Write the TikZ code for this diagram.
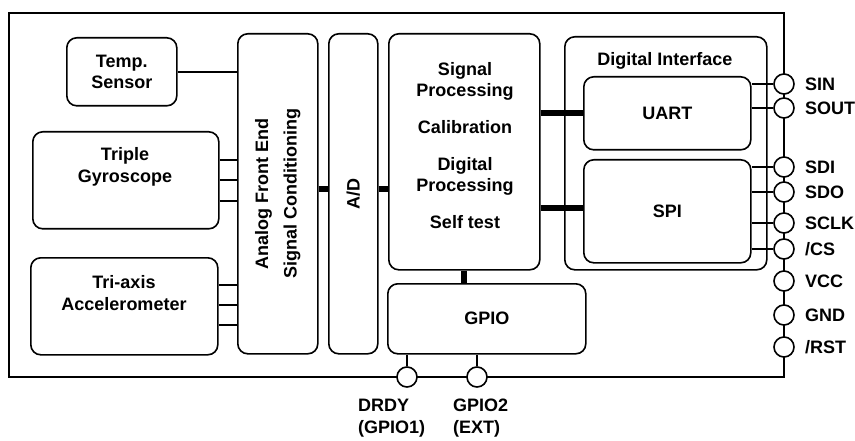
\documentclass[tikz,border=0pt]{standalone}
\usepackage{fontspec}
\setmainfont{Liberation Sans}
\begin{document}
\begin{tikzpicture}[x=1pt,y=-1pt,
  font=\fontsize{18}{21.5}\selectfont\bfseries,
  line/.style={line width=1.6pt},
  box/.style={draw, line width=1.6pt, rounded corners=10pt, inner sep=0pt, anchor=north west, align=center},
  bus/.style={line width=6pt},
  pin/.style={circle, draw, line width=1.6pt, fill=white, minimum size=20pt, inner sep=0pt},
  txt/.style={inner sep=0pt, align=center},
  plabel/.style={anchor=west, inner sep=0pt}]
\useasboundingbox (0,0) rectangle (855,441);
% outer chip outline
\draw[line] (9,13) rectangle (784,377);
% boxes
\node[box, minimum width=110pt, minimum height=68pt] (temp) at (66,37) {Temp.\\Sensor};
\node[box, minimum width=186pt, minimum height=97pt] (gyro) at (32,131) {};
\node[txt] (gyrot) at (125,167) {Triple\\Gyroscope};
\node[box, minimum width=187pt, minimum height=97pt] (acc) at (30,257) {};
\node[txt] (acct) at (124,293) {Tri-axis\\Accelerometer};
\node[box, minimum width=80pt, minimum height=320pt] (afe) at (237,33) {};
\node[txt, rotate=90] (afet) at (afe.center) {Analog Front End\\[7pt]Signal Conditioning};
\node[box, minimum width=49pt, minimum height=320pt] (ad) at (328,33) {};
\node[txt, rotate=90] (adt) at (ad.center) {A/D};
\node[box, minimum width=151pt, minimum height=236pt] (sp) at (388,33) {};
\node[txt, anchor=base] (sp1) at (465,76) {Signal};
\node[txt, anchor=base] (sp2) at (465,97) {Processing};
\node[txt, anchor=base] (sp3) at (465,134) {Calibration};
\node[txt, anchor=base] (sp4) at (465,171) {Digital};
\node[txt, anchor=base] (sp5) at (465,192) {Processing};
\node[txt, anchor=base] (sp6) at (465,229) {Self test};
\node[box, minimum width=202pt, minimum height=233pt] (di) at (564,36) {};
\node[txt] (dit) at (665,61) {Digital Interface};
\node[box, minimum width=167pt, minimum height=73pt] (uart) at (583,76) {UART};
\node[box, minimum width=167pt, minimum height=103pt] (spi) at (583,159) {SPI};
\node[box, minimum width=198pt, minimum height=70pt] (gpio) at (387,283) {GPIO};
% sensor connections
\draw[line] (temp.east) -- (temp.east -| afe.west);
\foreach \dy in {-20.5,0,20.5} \draw[line] ([yshift=-\dy pt]gyro.east) -- ([yshift=-\dy pt]gyro.east -| afe.west);
\foreach \dy in {-21.5,-1.5,18.5} \draw[line] ([yshift=-\dy pt]acc.east) -- ([yshift=-\dy pt]acc.east -| afe.west);
% buses
\draw[bus] (afe.east |- 0,189) -- (ad.west |- 0,189);
\draw[bus] (ad.east |- 0,189) -- (sp.west |- 0,189);
\draw[bus] (sp.east |- uart.west) -- (uart.west);
\draw[bus] (sp.east |- 0,208) -- (spi.west |- 0,208);
\draw[bus] (sp.south) -- (sp.south |- gpio.north);
% pins right
\node[pin] (sin) at (784,84) {};
\node[pin] (sout) at (784,108) {};
\node[pin] (sdi) at (784,167) {};
\node[pin] (sdo) at (784,192) {};
\node[pin] (sclk) at (784,223) {};
\node[pin] (cs) at (784,249) {};
\node[pin] (vcc) at (784,281) {};
\node[pin] (gnd) at (784,315) {};
\node[pin] (rst) at (784,347) {};
\node[plabel] (sinl) at ([xshift=10pt]sin.east) {SIN};
\node[plabel] (soutl) at ([xshift=10pt]sout.east) {SOUT};
\node[plabel] (sdil) at ([xshift=10pt]sdi.east) {SDI};
\node[plabel] (sdol) at ([xshift=10pt]sdo.east) {SDO};
\node[plabel] (sclkl) at ([xshift=10pt]sclk.east) {SCLK};
\node[plabel] (csl) at ([xshift=10pt]cs.east) {/CS};
\node[plabel] (vccl) at ([xshift=10pt]vcc.east) {VCC};
\node[plabel] (gndl) at ([xshift=10pt]gnd.east) {GND};
\node[plabel] (rstl) at ([xshift=10pt]rst.east) {/RST};
\draw[line] (uart.east |- sin) -- (sin);
\draw[line] (uart.east |- sout) -- (sout);
\draw[line] (spi.east |- sdi) -- (sdi);
\draw[line] (spi.east |- sdo) -- (sdo);
\draw[line] (spi.east |- sclk) -- (sclk);
\draw[line] (spi.east |- cs) -- (cs);
% pins bottom
\node[pin] (drdy) at (407,377) {};
\node[pin] (gpio2) at (477,377) {};
\draw[line] (drdy.north) -- (drdy |- gpio.south);
\draw[line] (gpio2.north) -- (gpio2 |- gpio.south);
\node[txt, align=left, anchor=north west] (drdyl) at (358,399) {DRDY\\(GPIO1)};
\node[txt, align=left, anchor=north west] (gpio2l) at (453,399) {GPIO2\\(EXT)};
\end{tikzpicture}
\end{document}
